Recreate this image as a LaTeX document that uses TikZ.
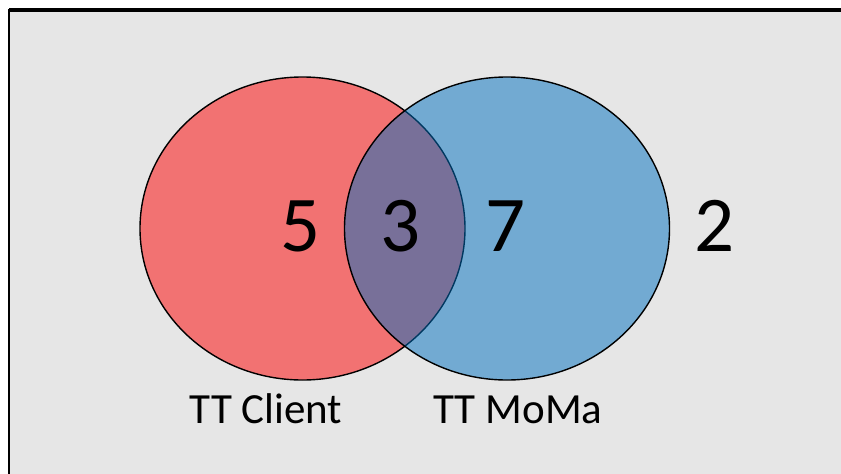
\documentclass[tikz,border=0pt]{standalone}
\usepackage{fontspec}
\setmainfont{Carlito}
\definecolor{panel}{HTML}{E6E6E6}
\definecolor{shade}{HTML}{BDBDBD}
\definecolor{setred}{HTML}{FF0000}
\definecolor{setblue}{HTML}{0070C0}
\tikzset{
  setdisc/.style={draw=black, line width=1.4pt, fill opacity=0.5},
  count/.style={font=\fontsize{79}{79}\selectfont, inner sep=0pt, anchor=center},
  setlabel/.style={font=\fontsize{43}{43}\selectfont, inner sep=0pt, anchor=base}
}
\begin{document}
\begin{tikzpicture}[x=1pt, y=-1pt]
  \useasboundingbox (0,0) rectangle (841,474);
  % panel with its framing edges
  \fill[panel] (9,10) rectangle (841,474);
  \draw[shade, line width=1.2pt] (9,8.2) -- (841,8.2);
  \draw[black, line width=2.2pt] (9,474) -- (9,10.5) -- (841,10.5);
  % the two sets
  \path[setdisc, fill=setred] (302.5,228.5) ellipse [x radius=162.5, y radius=151.5];
  \path[setdisc, fill=setblue] (507,228.5) ellipse [x radius=162.5, y radius=151.5];
  % counts per region
  \node[count] (onlyclient) at (301,226) {5};
  \node[count] (both) at (401,226) {3};
  \node[count] (onlymoma) at (506,226) {7};
  \node[count] (neither) at (715,226) {2};
  % set names
  \node[setlabel] (clientname) at (266,423) {TT Client};
  \node[setlabel] (momaname) at (518,423) {TT MoMa};
\end{tikzpicture}
\end{document}
